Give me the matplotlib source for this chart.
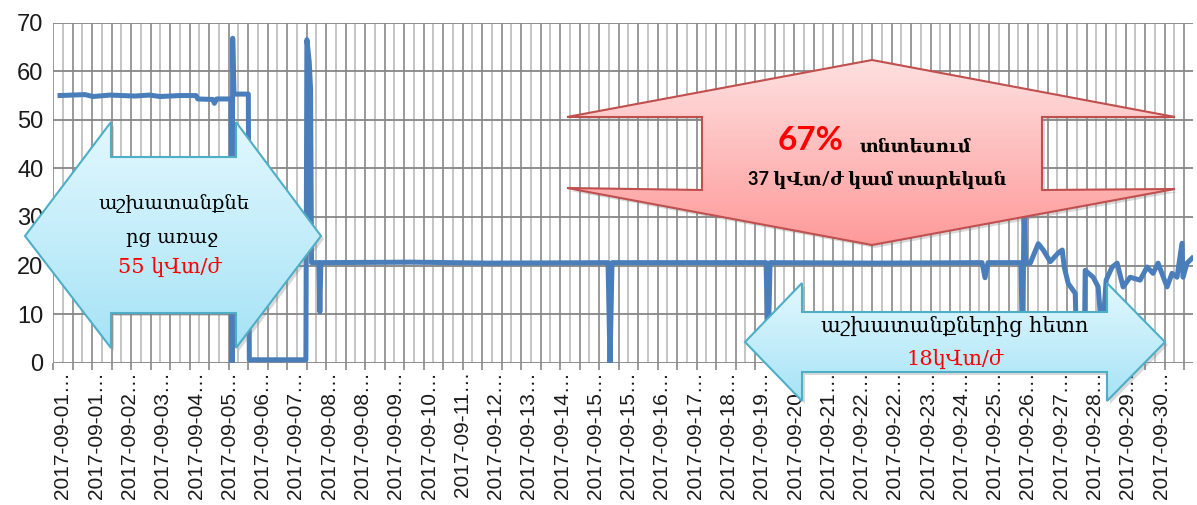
import numpy as np
import matplotlib
matplotlib.use("Agg")
from matplotlib import pyplot as plt
from matplotlib.patches import Polygon
from matplotlib.colors import LinearSegmentedColormap

# category labels under the axis (one per label slot)
label_days = ["01", "01", "02", "03", "04", "05", "06", "07", "08", "08",
              "09", "10", "11", "12", "13", "14", "15", "15", "16", "17",
              "18", "19", "20", "21", "22", "22", "23", "24", "25", "26",
              "27", "28", "29", "30"]
tick_labels = ["2017-09-" + d + "\u2026" for d in label_days]

# power readings, kW (x in label-slot units)
slot_x = [-0.09, 0.66, 0.90, 1.41, 2.16, 2.60, 2.92, 3.50, 4.00, 4.05,
          4.50, 4.55, 4.62, 5.05, 5.08, 5.10, 5.14, 5.57, 5.60, 7.30,
          7.33, 7.40, 7.44, 7.47, 7.69, 7.72, 7.75, 10.50, 12.80, 16.38,
          16.44, 16.50, 21.13, 21.19, 21.25, 24.50, 27.62, 27.71, 27.80, 28.79,
          28.84, 28.88, 28.93, 29.07, 29.31, 29.46, 29.67, 29.91, 30.03, 30.09,
          30.21, 30.42, 30.48, 30.69, 30.72, 30.96, 31.11, 31.23, 31.35, 31.53,
          31.68, 31.86, 32.07, 32.37, 32.58, 32.76, 32.91, 33.18, 33.33, 33.48,
          33.63, 33.66, 33.78, 33.93]
power_kw = [55.0, 55.2, 54.8, 55.1, 54.9, 55.1, 54.8, 55.0, 55.0, 54.3,
            54.2, 53.4, 54.3, 54.3, 0.0, 66.8, 55.3, 55.3, 0.6, 0.6,
            66.5, 62.0, 56.5, 20.6, 20.6, 10.5, 20.6, 20.7, 20.5, 20.6,
            0.0, 20.6, 20.6, 2.0, 20.6, 20.5, 20.6, 17.5, 20.6, 20.6,
            0.0, 32.0, 20.5, 20.5, 24.5, 23.2, 20.8, 22.6, 23.2, 19.7,
            16.3, 14.3, 0.0, 0.0, 19.0, 17.6, 15.6, 5.0, 17.0, 19.7,
            20.5, 15.6, 17.6, 17.0, 19.7, 18.4, 20.5, 15.6, 18.4, 17.6,
            24.6, 17.6, 20.5, 21.5]

W, H = 1197, 505
fig = plt.figure(figsize=(W / 100, H / 100), dpi=100)
ax = fig.add_axes([53 / W, 1 - 362.7 / H, 1140 / W, 340 / H])

x0, x1 = -0.30, 33.96
ax.set_xlim(x0, x1)
ax.set_ylim(0, 70)

# grid
step = 9.75 / 33.27
gx = np.arange(x0, x1 + 0.01, step)
ax.vlines(gx[1::2], 0, 70, color="#b4b4b4", lw=1.1, zorder=0.5)
ax.vlines(gx[::2], 0, 70, color="#7f7f7f", lw=1.1, zorder=0.6)
ax.vlines(gx[::2], -1.5, 0, color="#7f7f7f", lw=1.1, clip_on=False)
ax.hlines(np.arange(0, 71, 10), x0, x1, color="#868686", lw=1.3, zorder=0.7)

ax.plot(slot_x, power_kw, color="#4a7ebb", lw=3.6, zorder=2)

for s in ax.spines.values():
    s.set_visible(False)
ax.set_yticks(np.arange(0, 71, 10))
ax.set_xticks(range(len(tick_labels)))
ax.set_xticklabels(tick_labels, rotation=90, va="top", ha="center")
ax.tick_params(axis="both", length=0, labelcolor="#1a1a1a")
ax.tick_params(axis="x", pad=6, labelsize=15)
ax.tick_params(axis="y", pad=7, labelsize=17)
for t in ax.get_xticklabels() + ax.get_yticklabels():
    t.set_family("Liberation Sans")

# overlay for the callout shapes (figure pixel space)
ov = fig.add_axes([0, 0, 1, 1], zorder=5)
ov.set_xlim(0, W)
ov.set_ylim(H, 0)
ov.axis("off")


def callout(verts, c_top, c_bot, edge):
    xs = [v[0] for v in verts]
    ys = [v[1] for v in verts]
    sh = Polygon([(x + 3, y + 3) for x, y in verts], closed=True,
                 facecolor="#808080", edgecolor="none", alpha=0.3, zorder=1)
    ov.add_patch(sh)
    poly = Polygon(verts, closed=True, facecolor="none", edgecolor=edge,
                   lw=1.5, zorder=3)
    ov.add_patch(poly)
    cmap = LinearSegmentedColormap.from_list("g", [c_top, c_bot])
    grad = np.linspace(0, 1, 256).reshape(-1, 1)
    im = ov.imshow(grad, cmap=cmap, aspect="auto", zorder=2,
                   extent=(min(xs), max(xs), max(ys), min(ys)))
    im.set_clip_path(poly)


left_arrow = [(25, 236), (111, 122), (111, 157), (236, 157), (236, 122),
              (321, 236), (236, 348), (236, 313), (111, 313), (111, 348)]
red_arrow = [(872, 60), (1175, 117), (1042, 117), (1042, 190), (1175, 189),
             (872, 245), (567, 188), (702, 190), (702, 117), (567, 117)]
right_arrow = [(745, 342), (802, 283), (802, 312), (1107, 312), (1107, 283),
               (1165, 342), (1107, 401), (1107, 372), (802, 372), (802, 401)]

callout(left_arrow, "#e2f8fe", "#a6e3f6", "#4eaec8")
callout(red_arrow, "#ffe0e0", "#fe9a9a", "#c0504d")
callout(right_arrow, "#e2f8fe", "#a6e3f6", "#4eaec8")

arm = ["DejaVu Serif", "DejaVu Sans"]
ov.text(174, 204, "աշխատանքնե", ha="center", va="center", fontsize=14,
        family=arm, color="black", zorder=6)
ov.text(172, 238, "րց առաջ", ha="center", va="center", fontsize=14,
        family=arm, color="black", zorder=6)
ov.text(170, 267, "55 կՎտ/ժ", ha="center", va="center", fontsize=15,
        family=arm, color="#ff0000", zorder=6)

ov.text(811, 141, "67%", ha="center", va="center", fontsize=24,
        fontweight="bold", family=["Lato", "DejaVu Sans"], color="#ff0000", zorder=6)
ov.text(916, 146, "տնտեսում", ha="center", va="center", fontsize=13,
        fontweight="bold", family=arm, color="black", zorder=6)
ov.text(877, 180, "37 կՎտ/ժ կամ տարեկան", ha="center", va="center", fontsize=13,
        fontweight="bold", family=["Lato", "DejaVu Serif", "DejaVu Sans"],
        color="black", zorder=6)

ov.text(955, 326, "աշխատանքներից հետո", ha="center", va="center", fontsize=15,
        family=arm, color="black", zorder=6)
ov.text(955, 359, "18կՎտ/ժ", ha="center", va="center", fontsize=15,
        family=arm, color="#ff0000", zorder=6)

fig.savefig("out.png", dpi=100)
